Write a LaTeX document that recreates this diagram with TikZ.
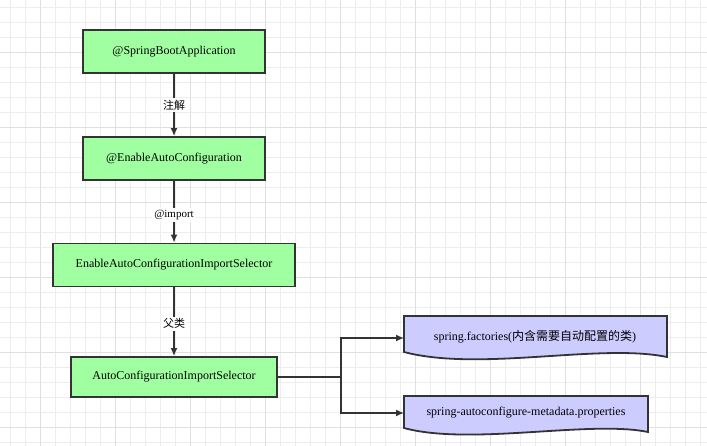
\documentclass[tikz,border=0pt]{standalone}
\usepackage{fontspec}
\setmainfont{Liberation Serif}
\newfontfamily\cjk{Noto Sans CJK SC}
\begin{document}
\begin{tikzpicture}[x=1pt,y=-1pt,
  box/.style={draw=black!80,line width=1.8pt,fill=green!35!white!90!black,minimum height=43pt,inner sep=0pt,font=\fontsize{12}{14}\selectfont},
  docshape/.style={draw=black!80,line width=1.8pt,fill={rgb,255:red,204;green,204;blue,255}},
  doctext/.style={font=\fontsize{12}{14}\selectfont,inner sep=0pt},
  lbl/.style={fill=white,inner sep=2pt,font=\cjk\fontsize{11}{13}\selectfont},
  conn/.style={draw=black!80,line width=1.5pt,-{Latex[length=8pt,width=7pt]}}]
\usetikzlibrary{arrows.meta}
\useasboundingbox (0,0) rectangle (707,446);
\fill[white] (0,0) rectangle (707,446);
\foreach \x in {10,25,...,705} \draw[black!7,line width=0.6pt] (\x,0) -- (\x,446);
\foreach \y in {7,22,...,445} \draw[black!7,line width=0.6pt] (0,\y) -- (707,\y);
\foreach \x in {40,115,...,705} \draw[black!12,line width=0.8pt] (\x,0) -- (\x,446);
\foreach \y in {52,127,...,445} \draw[black!12,line width=0.8pt] (0,\y) -- (707,\y);
\colorlet{bg}{green!35!white}
\definecolor{gfill}{RGB}{160,255,160}
\tikzset{box/.append style={fill=gfill}}
\node[box,minimum width=182pt] (a) at (174,51.5) {@SpringBootApplication};
\node[box,minimum width=182pt] (b) at (174,158.5) {@EnableAutoConfiguration};
\node[box,minimum width=242pt] (c) at (174,265) {EnableAutoConfigurationImportSelector};
\node[box,minimum width=206pt,minimum height=40pt] (d) at (174,377) {AutoConfigurationImportSelector};
\path[docshape] (404,316) -- (667,316) -- (667,357) .. controls (600,343) and (480,372) .. (404,352) -- cycle;
\path[docshape] (404,396) -- (648,396) -- (648,432) .. controls (590,420) and (470,446) .. (404,428) -- cycle;
\node[doctext] (e) at (535,337) {spring.factories({\cjk 内含需要自动配置的类})};
\node[doctext] (f) at (526,413) {spring-autoconfigure-metadata.properties};
\coordinate (e0) at (404,338);
\coordinate (f0) at (404,413);
\coordinate (j) at (341,377);
\draw[conn] (a) -- node[lbl]{注解} (b);
\draw[conn] (b) -- node[lbl,font=\fontsize{11}{13}\selectfont,pos=0.55]{@import} (c);
\draw[conn] (c) -- node[lbl,pos=0.53]{父类} (d);
\draw[draw=black!80,line width=1.5pt] (d.east) -- (j);
\draw[conn] (j) |- (e0);
\draw[conn] (j) |- (f0);
\end{tikzpicture}
\end{document}
